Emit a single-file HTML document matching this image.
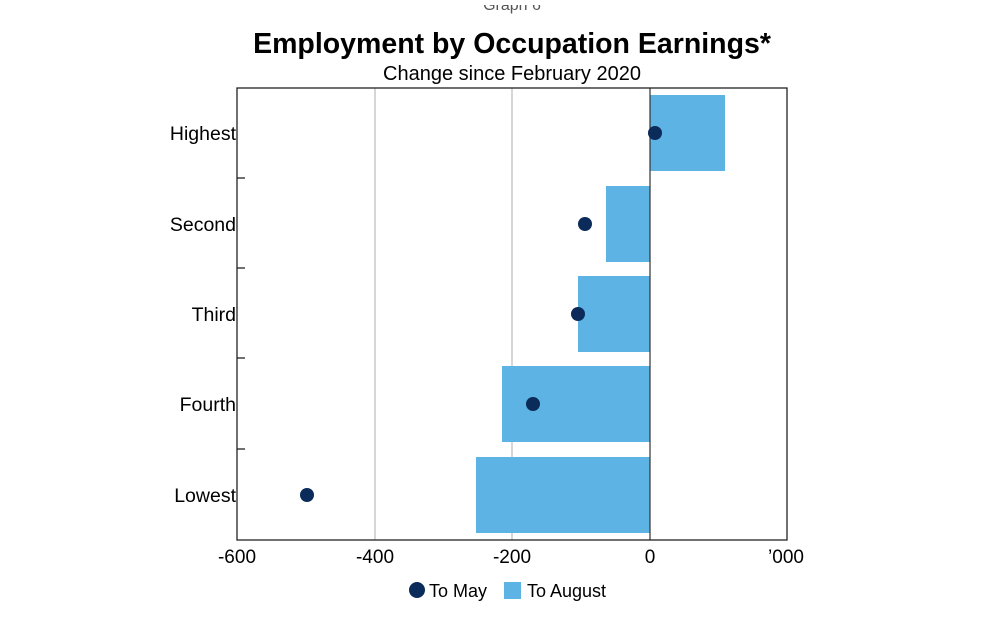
<!DOCTYPE html>
<html><head><style>body{margin:0;background:#fff}svg{display:block}</style></head><body>
<svg width="995" height="621" xmlns="http://www.w3.org/2000/svg" font-family="Liberation Sans, Arial, sans-serif">
<rect width="995" height="621" fill="#fff"/>
<text x="512" y="10" font-size="16" text-anchor="middle" fill="#555">Graph 6</text>
<rect x="0" y="0" width="995" height="5" fill="#fff"/>
<text x="512" y="53" font-size="28.5" font-weight="bold" text-anchor="middle">Employment by Occupation Earnings*</text>
<text x="512" y="80" font-size="20" text-anchor="middle">Change since February 2020</text>
<line x1="375" y1="88" x2="375" y2="540" stroke="#bbb" stroke-width="1.2"/>
<line x1="512" y1="88" x2="512" y2="540" stroke="#bbb" stroke-width="1.2"/>
<g fill="#5cb3e4">
<rect x="650" y="95" width="75" height="76"/>
<rect x="606" y="186" width="44" height="76"/>
<rect x="578" y="276" width="72" height="76"/>
<rect x="502" y="366" width="148" height="76"/>
<rect x="476" y="457" width="174" height="76"/>
</g>
<line x1="650" y1="88" x2="650" y2="540" stroke="#333" stroke-width="1.2"/>
<rect x="237" y="88" width="550" height="452" fill="none" stroke="#222" stroke-width="1.3"/>
<g stroke="#222" stroke-width="1.3">
<line x1="237" y1="178" x2="245" y2="178"/><line x1="237" y1="268" x2="245" y2="268"/>
<line x1="237" y1="358" x2="245" y2="358"/><line x1="237" y1="449" x2="245" y2="449"/>
</g>
<g fill="#0b2b5a">
<circle cx="655" cy="133" r="7"/><circle cx="585" cy="224" r="7"/><circle cx="578" cy="314" r="7"/>
<circle cx="533" cy="404" r="7"/><circle cx="307" cy="495" r="7"/>
</g>
<g font-size="19.5" text-anchor="end">
<text x="236" y="140">Highest</text><text x="236" y="231">Second</text><text x="236" y="321">Third</text>
<text x="236" y="411">Fourth</text><text x="236" y="502">Lowest</text>
</g>
<g font-size="19" text-anchor="middle">
<text x="237" y="563">-600</text><text x="375" y="563">-400</text><text x="512" y="563">-200</text>
<text x="650" y="563">0</text><text x="786" y="563">’000</text>
</g>
<circle cx="417" cy="590" r="8" fill="#0b2b5a"/>
<text x="429" y="597" font-size="18">To May</text>
<rect x="504" y="582" width="17" height="17" fill="#5cb3e4"/>
<text x="527" y="597" font-size="18">To August</text>
</svg>
</body></html>
